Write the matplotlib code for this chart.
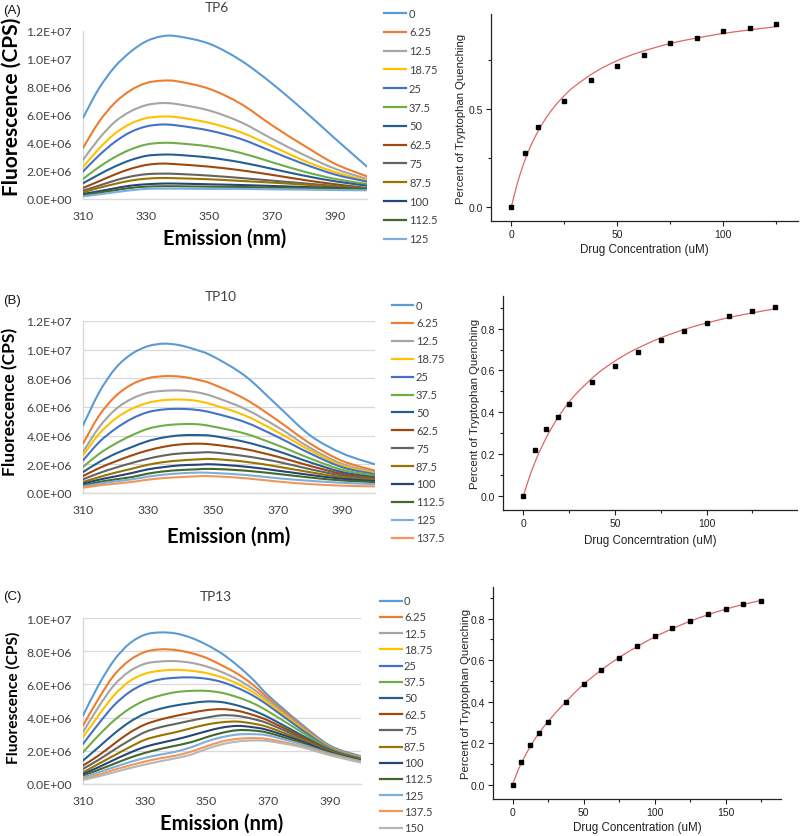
import numpy as np
import matplotlib
matplotlib.use("Agg")
import matplotlib.pyplot as plt
from matplotlib.ticker import FuncFormatter, MultipleLocator
from matplotlib.lines import Line2D
from matplotlib.path import Path
from matplotlib.patches import PathPatch

# ---------------- data ----------------
conc_A = ["0", "6.25", "12.5", "18.75", "25", "37.5", "50", "62.5", "75", "87.5", "100", "112.5", "125"]
conc_B = conc_A + ["137.5"]
conc_C = conc_B + ["150"]

excel_colors = ["#5B9BD5", "#ED7D31", "#A5A5A5", "#FFC000", "#4472C4", "#70AD47",
                "#255E91", "#9E480E", "#636363", "#997300", "#264478", "#43682B",
                "#7CAFDD", "#F1975A", "#B7B7B7"]

wl_A = [310, 315, 320, 325, 330, 335, 340, 350, 360, 370, 380, 390, 400]
spec_A = [  # units of 1e6 CPS
    [5.80, 7.87, 9.42, 10.50, 11.26, 11.62, 11.62, 11.09, 9.90, 8.23, 6.32, 4.29, 2.31],
    [3.65, 5.49, 6.85, 7.75, 8.28, 8.45, 8.40, 7.87, 6.80, 5.25, 3.82, 2.50, 1.62],
    [2.79, 4.29, 5.49, 6.25, 6.70, 6.85, 6.77, 6.32, 5.49, 4.29, 3.15, 2.15, 1.43],
    [2.27, 3.58, 4.65, 5.37, 5.77, 5.89, 5.84, 5.44, 4.77, 3.77, 2.74, 1.91, 1.31],
    [1.96, 3.10, 4.06, 4.77, 5.18, 5.32, 5.25, 4.89, 4.29, 3.39, 2.50, 1.74, 1.24],
    [1.43, 2.27, 2.98, 3.53, 3.89, 4.01, 3.98, 3.75, 3.29, 2.62, 1.96, 1.43, 1.07],
    [1.12, 1.74, 2.31, 2.77, 3.08, 3.17, 3.15, 2.96, 2.62, 2.15, 1.67, 1.26, 0.95],
    [0.79, 1.26, 1.74, 2.15, 2.43, 2.53, 2.48, 2.31, 2.05, 1.72, 1.36, 1.05, 0.79],
    [0.60, 0.95, 1.31, 1.60, 1.77, 1.81, 1.79, 1.67, 1.50, 1.31, 1.12, 0.93, 0.76],
    [0.48, 0.79, 1.07, 1.31, 1.45, 1.50, 1.48, 1.41, 1.29, 1.17, 1.03, 0.88, 0.72],
    [0.36, 0.55, 0.76, 0.95, 1.05, 1.10, 1.10, 1.05, 1.00, 0.93, 0.86, 0.79, 0.69],
    [0.29, 0.45, 0.62, 0.79, 0.88, 0.91, 0.91, 0.88, 0.86, 0.81, 0.79, 0.74, 0.69],
    [0.19, 0.33, 0.48, 0.62, 0.72, 0.74, 0.74, 0.72, 0.72, 0.69, 0.67, 0.64, 0.62],
]

wl_B = [310, 315, 320, 325, 330, 335, 340, 345, 350, 360, 370, 380, 390, 400]
spec_B = [
    [4.71, 7.03, 8.70, 9.70, 10.24, 10.42, 10.30, 9.98, 9.54, 8.16, 6.09, 4.02, 2.76, 2.00],
    [3.44, 5.41, 6.75, 7.57, 8.01, 8.15, 8.12, 7.92, 7.59, 6.55, 5.06, 3.45, 2.23, 1.56],
    [2.86, 4.60, 5.83, 6.57, 6.99, 7.13, 7.15, 7.03, 6.74, 5.86, 4.60, 3.15, 2.02, 1.45],
    [2.62, 4.13, 5.18, 5.87, 6.29, 6.48, 6.52, 6.43, 6.16, 5.40, 4.25, 2.97, 1.91, 1.38],
    [2.27, 3.55, 4.48, 5.18, 5.64, 5.83, 5.87, 5.80, 5.59, 4.94, 3.91, 2.76, 1.79, 1.31],
    [1.81, 2.74, 3.44, 4.02, 4.48, 4.71, 4.80, 4.80, 4.64, 4.14, 3.33, 2.41, 1.61, 1.22],
    [1.46, 2.16, 2.74, 3.20, 3.62, 3.88, 4.02, 4.04, 3.98, 3.56, 2.92, 2.14, 1.45, 1.10],
    [1.18, 1.74, 2.20, 2.62, 2.97, 3.23, 3.39, 3.44, 3.38, 3.06, 2.53, 1.89, 1.33, 1.03],
    [0.95, 1.39, 1.76, 2.09, 2.39, 2.62, 2.76, 2.81, 2.83, 2.57, 2.18, 1.66, 1.22, 0.97],
    [0.77, 1.11, 1.42, 1.69, 1.97, 2.16, 2.27, 2.34, 2.37, 2.18, 1.84, 1.45, 1.10, 0.90],
    [0.65, 0.93, 1.16, 1.39, 1.65, 1.81, 1.93, 1.97, 2.00, 1.84, 1.56, 1.26, 0.99, 0.83],
    [0.53, 0.77, 0.95, 1.11, 1.35, 1.51, 1.60, 1.65, 1.68, 1.56, 1.33, 1.08, 0.87, 0.76],
    [0.46, 0.65, 0.81, 0.95, 1.14, 1.28, 1.37, 1.42, 1.40, 1.26, 1.03, 0.85, 0.71, 0.62],
    [0.37, 0.53, 0.65, 0.77, 0.93, 1.04, 1.11, 1.16, 1.17, 1.03, 0.80, 0.62, 0.51, 0.46],
]

wl_C = [310, 315, 320, 325, 330, 335, 340, 345, 350, 355, 360, 365, 370, 380, 390, 400]
spec_C = [
    [4.12, 5.94, 7.44, 8.45, 8.99, 9.13, 9.07, 8.81, 8.39, 7.85, 7.14, 6.30, 5.33, 3.72, 2.31, 1.67],
    [3.52, 5.13, 6.54, 7.44, 7.95, 8.11, 8.07, 7.89, 7.59, 7.14, 6.64, 5.98, 5.17, 3.62, 2.25, 1.61],
    [3.12, 4.63, 5.94, 6.78, 7.24, 7.38, 7.40, 7.30, 7.08, 6.74, 6.30, 5.73, 5.03, 3.52, 2.21, 1.57],
    [2.82, 4.12, 5.33, 6.18, 6.64, 6.82, 6.88, 6.82, 6.68, 6.42, 6.04, 5.53, 4.89, 3.46, 2.17, 1.55],
    [2.41, 3.62, 4.73, 5.53, 6.04, 6.30, 6.40, 6.42, 6.34, 6.14, 5.79, 5.33, 4.73, 3.38, 2.15, 1.53],
    [1.91, 2.92, 3.82, 4.53, 5.03, 5.33, 5.53, 5.61, 5.61, 5.49, 5.23, 4.87, 4.37, 3.22, 2.11, 1.51],
    [1.41, 2.21, 3.02, 3.72, 4.23, 4.53, 4.73, 4.87, 4.97, 4.93, 4.73, 4.43, 4.02, 3.02, 2.05, 1.49],
    [1.11, 1.71, 2.41, 3.08, 3.58, 3.88, 4.10, 4.29, 4.45, 4.51, 4.41, 4.16, 3.82, 2.92, 2.01, 1.47],
    [0.91, 1.45, 2.05, 2.62, 3.12, 3.42, 3.62, 3.82, 4.00, 4.14, 4.10, 3.92, 3.64, 2.82, 1.97, 1.45],
    [0.70, 1.21, 1.71, 2.21, 2.66, 2.92, 3.12, 3.36, 3.58, 3.72, 3.76, 3.64, 3.42, 2.72, 1.95, 1.43],
    [0.60, 1.01, 1.45, 1.87, 2.23, 2.47, 2.68, 2.92, 3.18, 3.40, 3.50, 3.42, 3.24, 2.62, 1.91, 1.41],
    [0.50, 0.85, 1.21, 1.57, 1.87, 2.11, 2.31, 2.52, 2.82, 3.08, 3.24, 3.22, 3.08, 2.52, 1.87, 1.39],
    [0.40, 0.70, 1.01, 1.31, 1.57, 1.77, 1.95, 2.21, 2.56, 2.82, 2.98, 3.00, 2.92, 2.43, 1.83, 1.37],
    [0.30, 0.56, 0.85, 1.11, 1.35, 1.55, 1.71, 1.95, 2.27, 2.56, 2.72, 2.76, 2.70, 2.31, 1.77, 1.33],
    [0.24, 0.46, 0.70, 0.95, 1.17, 1.37, 1.55, 1.77, 2.11, 2.39, 2.56, 2.62, 2.58, 2.25, 1.73, 1.29],
]

# binding (quenching) data
dose_A = [0, 6.25, 12.5, 25, 37.5, 50, 62.5, 75, 87.5, 100, 112.5, 125]
quench_A = [0.0, 0.278, 0.410, 0.544, 0.652, 0.722, 0.780, 0.841, 0.867, 0.899, 0.916, 0.935]
fitx_A = [0, 3, 6.25, 10, 15, 20, 25, 30, 40, 50, 60, 75, 90, 105, 125]
fity_A = [0.0, 0.127, 0.234, 0.332, 0.432, 0.509, 0.570, 0.619, 0.694, 0.749, 0.790, 0.837, 0.870, 0.896, 0.923]

dose_B = [0, 6.25, 12.5, 18.75, 25, 37.5, 50, 62.5, 75, 87.5, 100, 112.5, 125, 137.5]
quench_B = [0.0, 0.218, 0.318, 0.379, 0.441, 0.546, 0.622, 0.687, 0.744, 0.790, 0.829, 0.859, 0.883, 0.903]
fitx_B = [0, 3, 6.25, 10, 15, 20, 25, 30, 40, 50, 60, 75, 90, 105, 120, 137.5]
fity_B = [0.0, 0.082, 0.159, 0.234, 0.319, 0.389, 0.449, 0.499, 0.582, 0.645, 0.696, 0.756, 0.802, 0.838, 0.867, 0.895]

dose_C = [0, 6.25, 12.5, 18.75, 25, 37.5, 50, 62.5, 75, 87.5, 100, 112.5, 125, 137.5, 150, 162.5, 175]
quench_C = [0.0, 0.111, 0.190, 0.249, 0.303, 0.399, 0.486, 0.554, 0.612, 0.668, 0.715, 0.753, 0.789,
            0.821, 0.845, 0.869, 0.884]
fitx_C = [0, 3, 6.25, 12.5, 18.75, 25, 37.5, 50, 62.5, 75, 87.5, 100, 112.5, 125, 137.5, 150, 162.5, 175]
fity_C = [0.0, 0.055, 0.105, 0.185, 0.250, 0.305, 0.400, 0.484, 0.553, 0.613, 0.665, 0.712, 0.752,
          0.788, 0.819, 0.846, 0.869, 0.888]

# ---------------- figure ----------------
W, H = 800, 837
fig = plt.figure(figsize=(W / 100, H / 100), dpi=100)
fig.patch.set_facecolor("white")

EXCEL_FONT = "Lato"
ORIGIN_FONT = "Liberation Sans"


def px_axes(x0, y0, x1, y1):
    return fig.add_axes([x0 / W, 1 - y1 / H, (x1 - x0) / W, (y1 - y0) / H])


def smooth_line(ax, x, y, color, lw, zorder=3):
    """Excel-style smoothed line: cubic Bezier segments through the data points."""
    P = np.column_stack([np.asarray(x, float), np.asarray(y, float)])
    n = len(P)
    verts = [P[0]]
    codes = [Path.MOVETO]
    for i in range(n - 1):
        p0 = P[i - 1] if i > 0 else P[i]
        p3 = P[i + 2] if i + 2 < n else P[i + 1]
        c1 = P[i] + (P[i + 1] - p0) / 6.0
        c2 = P[i + 1] - (p3 - P[i]) / 6.0
        verts += [c1, c2, P[i + 1]]
        codes += [Path.CURVE4] * 3
    patch = PathPatch(Path(verts, codes), fill=False, edgecolor=color, lw=lw,
                      capstyle="round", joinstyle="round", zorder=zorder)
    ax.add_patch(patch)
    return patch


def sci_fmt(v, pos):
    return f"{v:.1E}"


def manual_legend(labels, line_x0, line_x1, text_x, y0, dy):
    for i, lab in enumerate(labels):
        yy = 1 - (y0 + i * dy) / H
        fig.add_artist(Line2D([line_x0 / W, line_x1 / W], [yy, yy], transform=fig.transFigure,
                              color=excel_colors[i], lw=1.6))
        fig.text(text_x / W, yy, lab, ha="left", va="center", fontfamily=EXCEL_FONT,
                 fontsize=8, color="#404040")


def spectrum_panel(box, wl, spec, labels, ymax, title, tag, title_xy, tag_y, grid,
                   ylab_size, ylab_y, xlab_y, leg):
    ax = px_axes(*box)
    for i, row in enumerate(spec):
        smooth_line(ax, wl, np.array(row) * 1e6, excel_colors[i], 1.5)
    ax.set_xlim(310, 400)
    ax.set_ylim(0, ymax)
    ax.set_xticks([310, 330, 350, 370, 390])
    ax.set_yticks(np.arange(0, ymax + 1, 2e6))
    ax.yaxis.set_major_formatter(FuncFormatter(sci_fmt))
    for s in ["top", "right"]:
        ax.spines[s].set_visible(False)
    for s in ["left", "bottom"]:
        ax.spines[s].set_color("#D9D9D9")
        ax.spines[s].set_linewidth(1.0)
    if grid:
        ax.grid(axis="y", color="#D9D9D9", lw=0.9, zorder=0)
        ax.set_axisbelow(True)
    ax.tick_params(length=0, pad=8, labelsize=8.8, labelcolor="#404040")
    for lab in ax.get_xticklabels() + ax.get_yticklabels():
        lab.set_fontfamily(EXCEL_FONT)
    ax.set_xlabel("Emission (nm)", fontfamily=EXCEL_FONT, fontweight="bold", fontsize=14.5)
    ax.xaxis.set_label_coords(0.5, xlab_y)
    ax.xaxis.label.set_va("center")
    ax.set_ylabel("Fluorescence (CPS)", fontfamily=EXCEL_FONT, fontweight="bold", fontsize=ylab_size)
    ax.yaxis.set_label_coords(-0.25, ylab_y)
    ax.yaxis.label.set_va("center")
    fig.text(title_xy[0] / W, 1 - title_xy[1] / H, title, ha="center", va="center",
             fontfamily=EXCEL_FONT, fontsize=9.8, color="#404040")
    fig.text(3 / W, 1 - tag_y / H, tag, ha="left", va="center",
             fontfamily=ORIGIN_FONT, fontsize=9.5, color="#111111")
    manual_legend(labels, *leg)
    return ax


def quench_panel(box, xlim, ylim, major_y, dose, quench, fitx, fity, xlabel, ylab_x, xlab_y, xmax_tick):
    ax = px_axes(*box)
    smooth_line(ax, fitx, fity, "#E06666", 0.9, zorder=2)
    ax.plot(dose, quench, "s", color="black", ms=3.4, zorder=3)
    ax.set_xlim(*xlim)
    ax.set_ylim(*ylim)
    ax.set_xticks(np.arange(0, xmax_tick + 1, 50))
    ax.xaxis.set_minor_locator(MultipleLocator(25))
    ax.yaxis.set_major_locator(MultipleLocator(major_y))
    ax.yaxis.set_minor_locator(MultipleLocator(major_y / 2))
    ax.yaxis.set_major_formatter(FuncFormatter(lambda v, p: f"{v:.1f}"))
    for s in ["top", "right"]:
        ax.spines[s].set_visible(False)
    for s in ["left", "bottom"]:
        ax.spines[s].set_color("#222222")
        ax.spines[s].set_linewidth(0.9)
    ax.tick_params(which="major", direction="out", length=3.5, width=0.8, pad=2,
                   labelsize=7.5, colors="#222222")
    ax.tick_params(which="minor", direction="out", length=2, width=0.8, colors="#222222")
    for lab in ax.get_xticklabels() + ax.get_yticklabels():
        lab.set_fontfamily(ORIGIN_FONT)
    ax.set_xlabel(xlabel, fontfamily=ORIGIN_FONT, fontsize=8.4, color="#222222")
    ax.xaxis.set_label_coords(0.5, xlab_y)
    ax.xaxis.label.set_va("center")
    ax.set_ylabel("Percent of Tryptophan Quenching", fontfamily=ORIGIN_FONT, fontsize=8.2,
                  color="#222222")
    ax.yaxis.set_label_coords(ylab_x, 0.5)
    ax.yaxis.label.set_va("center")
    return ax


# Row A
spectrum_panel((83, 32, 367, 200), wl_A, spec_A, conc_A, 1.2e7, "TP6", "(A)", (217, 8), 11,
               grid=False, ylab_size=15.0, ylab_y=0.555, xlab_y=-0.232,
               leg=(384, 406, 409, 14, 18.8))
quench_panel((491, 15, 798, 222), (-9.6, 135.4), (-0.072, 0.988), 0.5,
             dose_A, quench_A, fitx_A, fity_A, "Drug Concentration (uM)", -0.097, -0.135, 100)

# Row B
spectrum_panel((83, 322, 375, 494), wl_B, spec_B, conc_B, 1.2e7, "TP10", "(B)", (221, 297), 301,
               grid=True, ylab_size=12.5, ylab_y=0.537, xlab_y=-0.25,
               leg=(392, 413, 416, 306, 17.9))
quench_panel((503, 297, 797, 511), (-11.1, 149.4), (-0.067, 0.956), 0.2,
             dose_B, quench_B, fitx_B, fity_B, "Drug Concerntration (uM)", -0.096, -0.139, 100)

# Row C
spectrum_panel((83, 619, 361, 785), wl_C, spec_C, conc_C, 1.0e7, "TP13", "(C)", (216, 597), 597,
               grid=True, ylab_size=11.2, ylab_y=0.524, xlab_y=-0.23,
               leg=(380, 402, 404, 601.7, 16.2))
quench_panel((493, 588, 781, 800), (-13.8, 189), (-0.069, 0.953), 0.2,
             dose_C, quench_C, fitx_C, fity_C, "Drug Concentration (uM)", -0.093, -0.134, 150)

fig.savefig("out.png", dpi=100, facecolor="white")
